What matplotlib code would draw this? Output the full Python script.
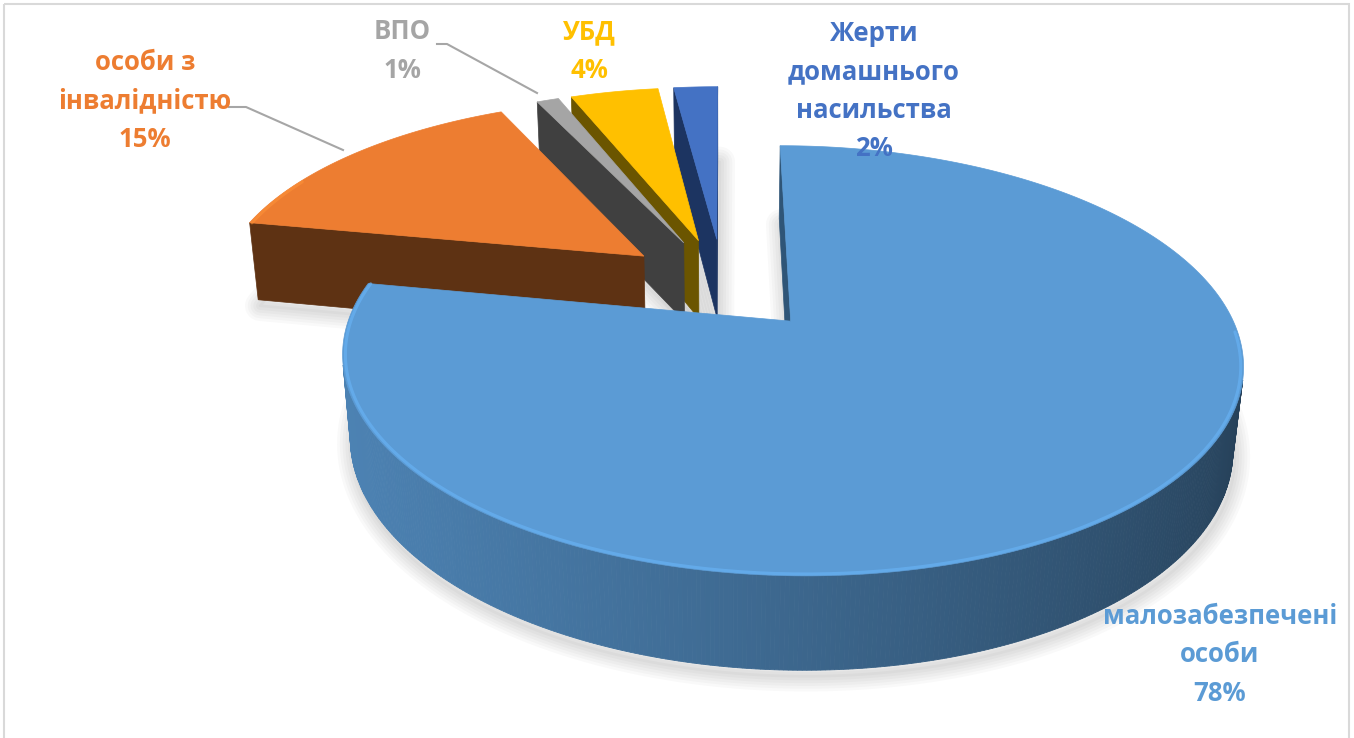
import numpy as np
import matplotlib.pyplot as plt
from matplotlib.patches import Polygon, Rectangle
from matplotlib.colors import to_rgb

plt.rcParams['font.family'] = ['Open Sans', 'DejaVu Sans']

# дані діаграми
labels = ['малозабезпечені\nособи', 'особи з\nінвалідністю', 'ВПО', 'УБД',
          'Жерти\nдомашнього\nнасильства']
shares = [78, 15, 1, 4, 2]
top_colors = ['#5B9BD5', '#ED7D31', '#A5A5A5', '#FFC000', '#4472C4']
face_colors = ['#2F5577', '#5E3213', '#404040', '#6B5500', '#1C3461']

# положення підписів (центр блоку тексту, пікселі)
label_pos = [(1220, 655), (145, 101), (402, 51), (589, 51), (874, 91)]

# камера (проста перспектива)
F, D, EL = 2140.0, 5.0, np.radians(27)
S, C = np.sin(EL), np.cos(EL)
CX, CY = 723, 284
R, H, EXPLODE = 1.0, 0.215, 0.24
cam = np.array([0.0, -D * C, D * S])


def proj(x, y, z):
    depth = D + y * C - z * S
    return CX + F * x / depth, CY - F * (y * S + z * C) / depth


def depth_of(p):
    return D + p[1] * C - p[2] * S


def shade(color, f):
    return tuple(np.clip(np.array(to_rgb(color)) * f, 0, 1))


fig = plt.figure(figsize=(13.54, 7.38), dpi=100)
ax = fig.add_axes([0, 0, 1, 1])
ax.set_xlim(0, 1354)
ax.set_ylim(738, 0)
ax.axis('off')

# кути секторів: від 12 години за годинниковою стрілкою
slices = []
start = 90.0
for i, v in enumerate(shares):
    a1 = start
    a0 = start - v * 3.6
    start = a0
    mid = np.radians((a0 + a1) / 2)
    off = EXPLODE * np.array([np.cos(mid), np.sin(mid)])
    cen = np.array([off[0] + 0.6 * np.cos(mid), off[1] + 0.6 * np.sin(mid), 0])
    slices.append((i, a0, a1, off, depth_of(cen)))

slices.sort(key=lambda s: -s[4])

# тінь під діаграмою
for i, a0, a1, off, _ in slices:
    phi = np.radians(np.linspace(a0, a1, 200))
    xs = np.concatenate([[off[0]], off[0] + R * np.cos(phi)])
    ys = np.concatenate([[off[1]], off[1] + R * np.sin(phi)])
    pts = np.array([proj(x, y, -H) for x, y in zip(xs, ys)]) + [2, 6]
    for k in range(6):
        ax.add_patch(Polygon(pts, closed=True, fc='none', ec='black',
                             lw=2 + 4 * k, alpha=0.022, joinstyle='round', zorder=1))

z = 2
for i, a0, a1, off, _ in slices:
    col = top_colors[i]
    # радіальні грані
    for a, sgn in ((a0, -1), (a1, 1)):
        ar = np.radians(a)
        d = np.array([np.cos(ar), np.sin(ar)])
        n = np.array([np.cos(ar + sgn * np.pi / 2), np.sin(ar + sgn * np.pi / 2), 0])
        p = np.array([off[0] + 0.5 * d[0], off[1] + 0.5 * d[1], -H / 2])
        if np.dot(n, cam - p) > 0:
            q = [proj(off[0], off[1], 0), proj(off[0] + R * d[0], off[1] + R * d[1], 0),
                 proj(off[0] + R * d[0], off[1] + R * d[1], -H), proj(off[0], off[1], -H)]
            ax.add_patch(Polygon(q, closed=True, fc=face_colors[i], ec=face_colors[i],
                                 lw=0.5, zorder=z))
    z += 1
    # зовнішня бічна стінка
    phi = np.linspace(a0, a1, int(abs(a1 - a0)) * 2 + 2)
    for p0, p1 in zip(phi[:-1], phi[1:]):
        pm = np.radians((p0 + p1) / 2)
        n = np.array([np.cos(pm), np.sin(pm), 0])
        p = np.array([off[0] + R * n[0], off[1] + R * n[1], -H / 2])
        if np.dot(n, cam - p) <= 0:
            continue
        r0, r1 = np.radians(p0), np.radians(p1)
        x0, y0 = off[0] + R * np.cos(r0), off[1] + R * np.sin(r0)
        x1, y1 = off[0] + R * np.cos(r1), off[1] + R * np.sin(r1)
        q = [proj(x0, y0, 0), proj(x1, y1, 0), proj(x1, y1, -H), proj(x0, y0, -H)]
        f = 0.62 - 0.22 * np.cos(pm - np.radians(10))
        c = shade(col, f)
        ax.add_patch(Polygon(q, closed=True, fc=c, ec=c, lw=0.6, zorder=z))
    z += 1
    # верхня грань
    phi = np.radians(np.linspace(a0, a1, 300))
    pts = [proj(off[0], off[1], 0)] + [proj(off[0] + R * np.cos(t), off[1] + R * np.sin(t), 0)
                                       for t in phi]
    ax.add_patch(Polygon(pts, closed=True, fc=col, ec=col, lw=0.5, zorder=z))
    # світлий відблиск по передньому краю
    front = [t for t in phi if np.sin(t) < -0.05 or np.cos(t) < -0.9]
    if front:
        rim = np.array([proj(off[0] + 0.994 * np.cos(t), off[1] + 0.994 * np.sin(t), 0)
                        for t in front])
        ax.plot(rim[:, 0], rim[:, 1], color=shade(col, 1.18), lw=2.2, alpha=0.55,
                solid_capstyle='round', zorder=z)
    z += 1

# лінії-виноски
ax.plot([229, 246, 343], [107, 107, 150], color='#A6A6A6', lw=1.5, zorder=20)
ax.plot([437, 447, 537], [44, 44, 93], color='#A6A6A6', lw=1.5, zorder=20)

# підписи
for i, (x, y) in enumerate(label_pos):
    ax.text(x, y, f'{labels[i]}\n{shares[i]}%', color=top_colors[i], ha='center',
            va='center', fontsize=18.5, fontweight='bold', linespacing=1.55, zorder=30)

ax.add_patch(Rectangle((4, 4), 1345, 745, fc='none', ec='#D9D9D9', lw=1.5, zorder=40))

fig.savefig('out.png', dpi=100)
